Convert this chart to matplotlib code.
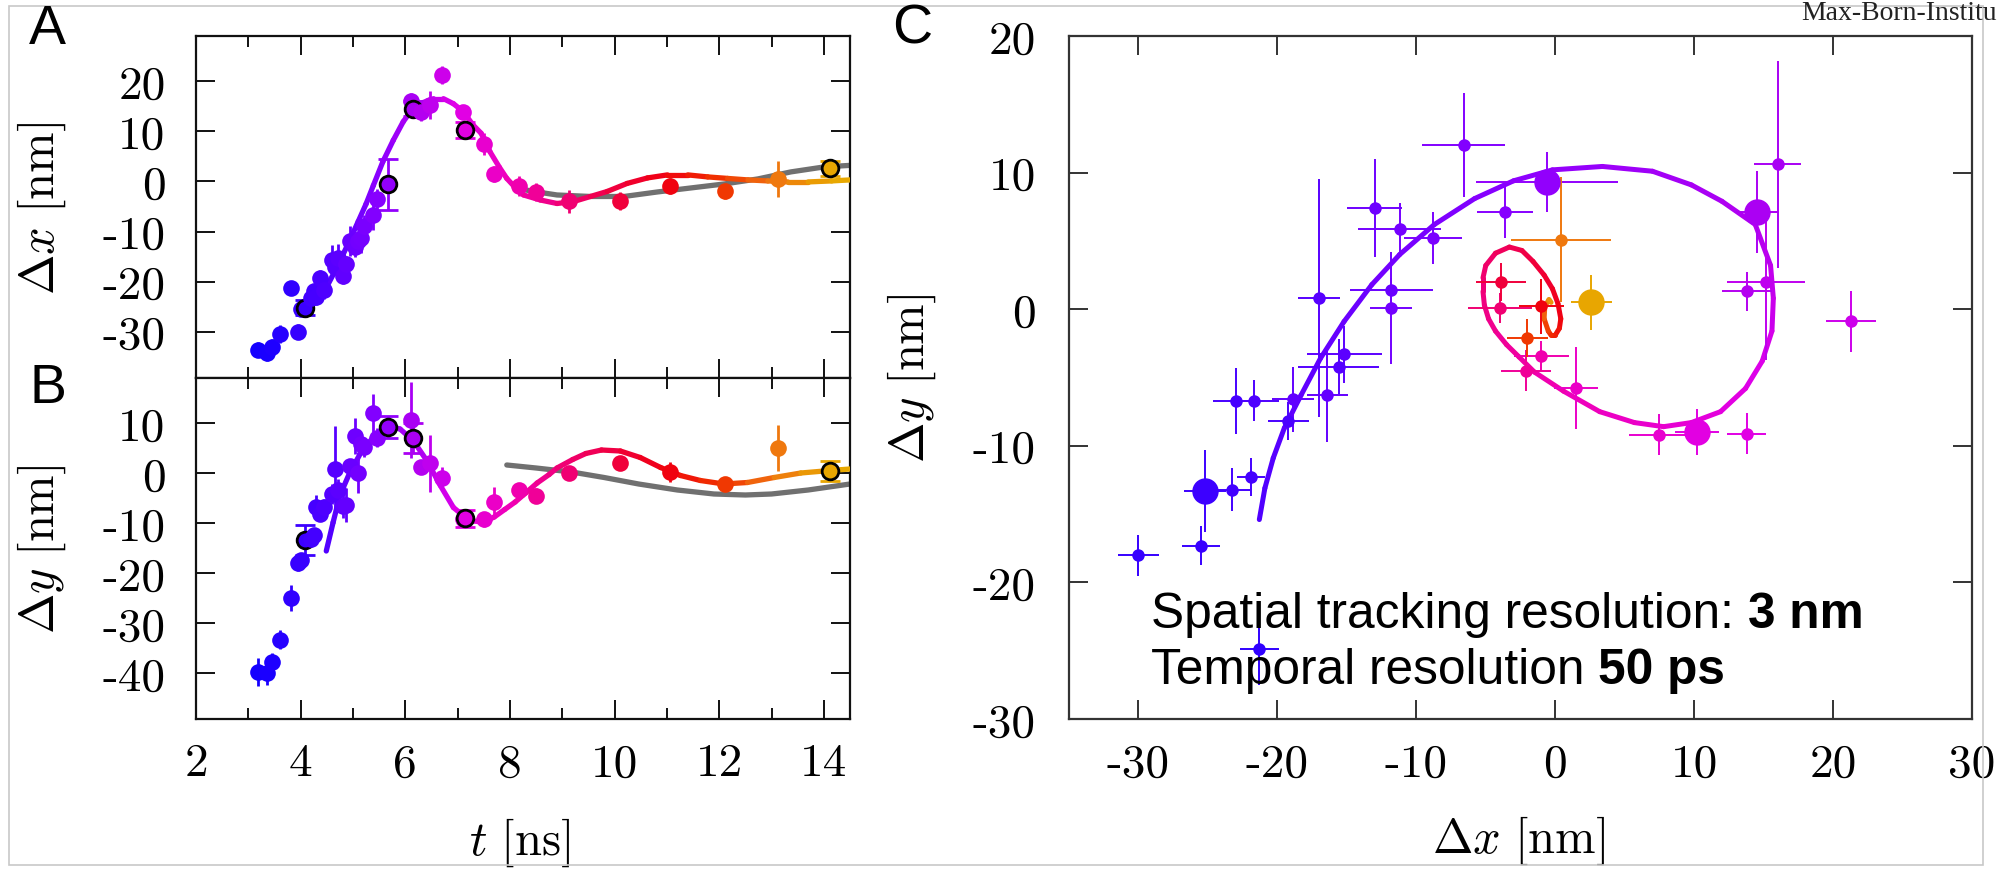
import numpy as np
import matplotlib
matplotlib.use('Agg')
import matplotlib.pyplot as plt
from matplotlib.collections import LineCollection
from matplotlib.colors import LinearSegmentedColormap, Normalize
from matplotlib.patches import Rectangle

plt.rcParams['mathtext.fontset'] = 'cm'
plt.rcParams['axes.unicode_minus'] = False

# tracked positions, shared by panels A, B and C
t_ns = [3.18, 3.35, 3.45, 3.60, 3.82, 3.95, 4.01, 4.09, 4.20, 4.25, 4.30, 4.37, 4.45, 4.60, 4.65,
        4.72, 4.81, 4.87, 4.94, 5.03, 5.10, 5.15, 5.22, 5.38, 5.45, 5.67, 6.10, 6.14, 6.30, 6.47,
        6.70, 7.10, 7.15, 7.50, 7.69, 8.17, 8.49, 9.12, 10.11, 11.06, 12.12, 13.13, 14.12]
dx_nm = [-33.6, -34.2, -33.0, -30.5, -21.3, -30.0, -25.5, -25.2, -23.3, -21.9, -23.0, -19.2, -21.7, -15.6, -17.0,
         -15.2, -18.9, -16.4, -11.8, -13.0, -11.8, -11.2, -8.8, -6.6, -3.6, -0.6, 16.0, 14.5, 13.8, 15.2,
         21.3, 13.8, 10.2, 7.5, 1.5, -1.0, -2.1, -4.0, -3.9, -1.0, -2.0, 0.4, 2.6]
dx_err = [1.5, 1.6, 1.5, 1.8, 1.4, 1.5, 1.4, 1.5, 1.3, 1.0, 1.6, 1.5, 1.8, 2.9, 1.5,
          2.7, 1.5, 1.5, 3.0, 2.0, 1.5, 3.0, 2.1, 3.0, 2.0, 5.1, 1.7, 1.5, 1.8, 2.8,
          1.8, 1.4, 1.6, 2.2, 1.6, 2.0, 1.8, 2.3, 1.8, 1.6, 1.5, 3.6, 1.5]
dy_nm = [-39.7, -40.0, -37.7, -33.3, -24.9, -18.0, -17.3, -13.3, -13.2, -12.3, -6.7, -8.2, -6.7, -4.2, 0.8,
         -3.3, -6.6, -6.3, 1.4, 7.4, 0.1, 5.9, 5.2, 12.0, 7.1, 9.3, 10.6, 7.1, 1.3, 2.0,
         -0.9, -9.1, -9.0, -9.2, -5.8, -3.4, -4.5, 0.1, 2.0, 0.2, -2.1, 5.1, 0.5]
dy_err = [2.8, 2.3, 1.8, 1.9, 2.6, 1.5, 1.4, 3.0, 1.6, 1.4, 2.4, 1.4, 1.5, 2.0, 8.7,
          2.1, 2.4, 3.4, 0.9, 3.6, 4.1, 1.9, 1.9, 3.8, 1.9, 2.2, 7.6, 3.0, 1.4, 5.7,
          2.2, 1.5, 1.7, 1.5, 3.0, 1.1, 1.5, 1.1, 1.4, 2.0, 1.4, 4.6, 2.0]
marked = [0, 0, 0, 0, 0, 0, 0, 1, 0, 0, 0, 0, 0, 0, 0,
          0, 0, 0, 0, 0, 0, 0, 0, 0, 0, 1, 0, 1, 0, 0,
          0, 0, 1, 0, 0, 0, 0, 0, 0, 0, 0, 0, 1]

# fitted curves
fitA_t = [4.50, 4.70, 4.90, 5.10, 5.25, 5.39, 5.57, 5.77, 5.96, 6.12, 6.28, 6.54, 6.73, 6.92, 7.10,
          7.30, 7.45, 7.62, 7.80, 7.94, 8.10, 8.26, 8.58, 8.90, 9.22, 9.54, 9.86, 10.24, 10.63, 11.01,
          11.40, 11.78, 12.16, 12.55, 12.93, 13.31, 13.70, 14.15, 14.50]
fitA_dx = [-21.0, -17.0, -12.6, -8.0, -4.5, -0.8, 3.9, 8.2, 11.9, 14.2, 15.5, 16.5, 16.5, 15.5, 14.0,
           11.2, 9.6, 5.9, 2.8, 0.6, -1.2, -2.7, -3.7, -4.4, -4.0, -3.0, -2.0, -0.4, 0.7, 1.3,
           1.3, 0.9, 0.6, 0.3, 0.1, -0.1, -0.1, 0.1, 0.3]
grayA_t = [8.10, 8.30, 8.52, 8.90, 9.54, 10.18, 10.82, 11.46, 12.10, 12.74, 13.37, 14.01, 14.50]
grayA_dx = [-1.0, -1.7, -2.1, -2.7, -3.0, -3.0, -2.1, -1.3, -0.5, 0.5, 1.9, 2.9, 3.2]

fitB_t = [4.49, 4.62, 4.75, 4.94, 5.19, 5.45, 5.67, 5.90, 6.15, 6.41, 6.67, 6.92, 7.14, 7.30, 7.50,
          7.70, 7.90, 8.10, 8.30, 8.52, 8.75, 8.90, 9.20, 9.45, 9.75, 10.11, 10.49, 10.88, 11.26, 11.64,
          12.09, 12.54, 13.05, 13.56, 14.12, 14.50]
fitB_dy = [-15.6, -9.9, -4.5, 0.1, 4.8, 7.8, 9.4, 8.8, 6.5, 2.5, -2.5, -6.9, -8.8, -9.6, -9.8,
           -8.8, -7.3, -5.8, -4.0, -2.0, -0.3, 1.0, 2.7, 3.9, 4.6, 4.4, 3.1, 1.1, -0.5, -1.5,
           -2.2, -1.9, -0.9, 0.0, 0.5, 0.8]
grayB_t = [7.94, 8.50, 9.18, 9.80, 10.46, 11.20, 11.90, 12.50, 13.00, 13.70, 14.50]
grayB_dy = [1.6, 1.0, 0.2, -0.9, -2.2, -3.4, -4.2, -4.4, -4.2, -3.4, -2.2]

fitC_t = [4.50, 4.55, 4.60, 4.68, 4.76, 4.85, 4.95, 5.05, 5.15, 5.27, 5.40, 5.52, 5.65, 5.80, 5.95,
          6.05, 6.15, 6.30, 6.45, 6.60, 6.75, 6.90, 7.05, 7.20, 7.35, 7.50, 7.65, 7.80, 8.00, 8.20,
          8.35, 8.45, 8.58, 8.70, 8.83, 8.95, 9.08, 9.20, 9.40, 9.60, 9.80, 10.0, 10.25, 10.5, 10.75,
          11.0, 11.25, 11.5, 11.75, 12.0, 12.5, 13.0, 13.5, 14.0]
fitC_dx = [-21.3, -20.9, -20.3, -19.5, -18.3, -16.9, -15.2, -13.2, -11.2, -8.7, -5.8, -3.0, -0.2, 3.4, 7.0,
           9.8, 12.0, 14.4, 15.5, 15.7, 15.6, 14.9, 13.7, 11.9, 9.8, 7.8, 5.7, 3.2, 0.6, -1.5,
           -2.6, -3.5, -4.3, -4.8, -5.1, -5.2, -5.2, -5.0, -4.3, -3.3, -2.4, -1.6, -0.8, -0.2, 0.2,
           0.4, 0.3, 0.0, -0.3, -0.5, -0.8, -0.75, -0.45, -0.3]
fitC_dy = [-15.4, -13.1, -10.9, -8.7, -6.3, -3.6, -0.9, 1.8, 4.0, 6.2, 8.1, 9.4, 10.2, 10.45, 10.1,
           9.1, 7.9, 6.2, 3.2, 0.8, -1.6, -3.8, -5.8, -7.5, -8.3, -8.6, -8.3, -7.5, -6.0, -4.6,
           -3.5, -2.6, -1.6, -0.7, 0.3, 1.3, 2.3, 3.2, 4.1, 4.55, 4.3, 3.5, 2.5, 1.5, 0.4,
           -0.7, -1.4, -1.9, -1.9, -1.6, -0.7, 0.2, 0.7, 0.5]

time_stops = [3.2, 4.5, 5.5, 6.3, 7.0, 8.0, 9.0, 10.0, 11.0, 12.0, 13.0, 14.2]
stop_colors = ['#1400ff', '#5000ff', '#8a00ff', '#b400f0', '#e000e8', '#f000b8',
               '#f00078', '#f00040', '#f00010', '#f03000', '#f07010', '#e8a800']

norm = Normalize(time_stops[0], time_stops[-1])
cmap = LinearSegmentedColormap.from_list(
    'track', [(norm(s), c) for s, c in zip(time_stops, stop_colors)])

W, H = 2000, 870
fig = plt.figure(figsize=(W / 100, H / 100), dpi=100)


def frac(x0, y0, x1, y1):
    return [x0 / W, 1 - y1 / H, (x1 - x0) / W, (y1 - y0) / H]


axA = fig.add_axes(frac(196, 37, 850, 379))
axB = fig.add_axes(frac(196, 379, 850, 720))
axC = fig.add_axes(frac(1069, 37, 1972, 720))

tick_font = dict(fontfamily='cmr10', fontsize=34)
label_size = 35


def gradient_line(ax, x, y, tt, lw, z=3):
    pts = np.column_stack([x, y])
    segs = np.stack([pts[:-1], pts[1:]], axis=1)
    tm = 0.5 * (np.asarray(tt[:-1]) + np.asarray(tt[1:]))
    lc = LineCollection(segs, colors=cmap(norm(tm)), linewidths=lw,
                        capstyle='round', joinstyle='round', zorder=z)
    ax.add_collection(lc)


def style(ax, spine_col):
    for s in ax.spines.values():
        s.set_linewidth(1.6)
        s.set_color(spine_col)
    ax.tick_params(which='both', direction='in', top=True, right=True,
                   width=1.4, color=spine_col)
    ax.tick_params(which='major', length=14)
    ax.tick_params(which='minor', length=8)


# panels A and B: position versus time
for ax in (axA, axB):
    style(ax, '#111111')
    ax.set_xlim(2, 14.5)
    ax.set_xticks([2, 4, 6, 8, 10, 12, 14])
    ax.set_xticks([3, 5, 7, 9, 11, 13], minor=True)
    ax.tick_params(axis='x', pad=17)
    ax.tick_params(axis='y', pad=22)

axA.set_ylim(-39.2, 29)
axA.set_yticks([20, 10, 0, -10, -20, -30])
axA.set_yticklabels(['20', '10', '0', '-10', '-20', '-30'], **tick_font)
axA.set_xticklabels([])

axB.set_ylim(-49.2, 19)
axB.set_yticks([10, 0, -10, -20, -30, -40])
axB.set_yticklabels(['10', '0', '-10', '-20', '-30', '-40'], **tick_font)
axB.set_xticklabels(['2', '4', '6', '8', '10', '12', '14'], **tick_font)

axA.plot(grayA_t, grayA_dx, color='#707070', lw=3.8, solid_capstyle='round', zorder=2)
gradient_line(axA, fitA_t, fitA_dx, fitA_t, 3.8)
axB.plot(grayB_t, grayB_dy, color='#707070', lw=3.8, solid_capstyle='round', zorder=2)
gradient_line(axB, fitB_t, fitB_dy, fitB_t, 3.8)

for i in range(len(t_ns)):
    col = cmap(norm(t_ns[i]))
    edge = 'black' if marked[i] else col
    mew = 2.0 if marked[i] else 0
    axA.errorbar(t_ns[i], dx_nm[i], yerr=dx_err[i], fmt='o', color=col, ms=12,
                 mec=edge, mew=mew, elinewidth=2.0, capsize=7, capthick=2.0, zorder=4)
    axB.errorbar(t_ns[i], dy_nm[i], yerr=dy_err[i], fmt='o', color=col, ms=12,
                 mec=edge, mew=mew, elinewidth=2.0, capsize=7, capthick=2.0, zorder=4)

axA.set_ylabel(r'$\Delta x\ [\mathrm{nm}]$', fontsize=label_size, va='center')
axA.yaxis.set_label_coords(-0.2355, 0.5)
axB.set_ylabel(r'$\Delta y\ [\mathrm{nm}]$', fontsize=label_size, va='center')
axB.yaxis.set_label_coords(-0.2355, 0.5)
axB.set_xlabel(r'$t\ [\mathrm{ns}]$', fontsize=label_size, va='center')
axB.xaxis.set_label_coords(0.495, -0.36)

# panel C: trajectory in the plane
style(axC, '#333333')
axC.set_xlim(-35, 30)
axC.set_ylim(-30, 20)
axC.set_xticks([-30, -20, -10, 0, 10, 20, 30])
axC.set_xticklabels(['-30', '-20', '-10', '0', '10', '20', '30'], **tick_font)
axC.set_yticks([20, 10, 0, -10, -20, -30])
axC.set_yticklabels(['20', '10', '0', '-10', '-20', '-30'], **tick_font)
axC.tick_params(axis='x', pad=17)
axC.tick_params(axis='y', pad=24)

gradient_line(axC, fitC_dx, fitC_dy, fitC_t, 3.6)
for i in range(len(t_ns)):
    col = cmap(norm(t_ns[i]))
    axC.errorbar(dx_nm[i], dy_nm[i], xerr=dx_err[i], yerr=dy_err[i], fmt='o', color=col,
                 ms=19 if marked[i] else 9, mew=0, elinewidth=1.4, capsize=8,
                 capthick=1.4, zorder=4)

axC.set_xlabel(r'$\Delta x\ [\mathrm{nm}]$', fontsize=label_size, va='center')
axC.xaxis.set_label_coords(0.498, -0.177)
axC.set_ylabel(r'$\Delta y\ [\mathrm{nm}]$', fontsize=label_size, va='center')
axC.yaxis.set_label_coords(-0.174, 0.5)

# resolution note, regular text followed by bold value
note_font = dict(fontsize=35.7, family='Liberation Sans')
renderer = fig.canvas.get_renderer()
for y_px, plain, bold in [(628, 'Spatial tracking resolution: ', '3 nm'),
                          (684, 'Temporal resolution ', '50 ps')]:
    t1 = fig.text(1151 / W, 1 - y_px / H, plain, va='baseline', ha='left', **note_font)
    bb = t1.get_window_extent(renderer)
    fig.text(bb.x1 / fig.bbox.width, 1 - y_px / H, bold, va='baseline', ha='left',
             fontweight='bold', **note_font)

# panel letters
for x_px, y_px, letter in [(47, 30, 'A'), (48, 389, 'B'), (912, 30, 'C')]:
    fig.text(x_px / W, 1 - y_px / H, letter, ha='center', va='center',
             fontsize=40, family='Liberation Sans')

fig.text(1997 / W, 1 - 1 / H, 'Max-Born-Institu', ha='right', va='top',
         fontsize=20, family='Liberation Serif', color='#222222')
fig.patches.append(Rectangle((9 / W, 1 - 866 / H), (1983 - 9) / W, (866 - 7) / H,
                             transform=fig.transFigure, fill=False,
                             ec='#c8c8c8', lw=1.2))

fig.savefig('out.png', dpi=100)
